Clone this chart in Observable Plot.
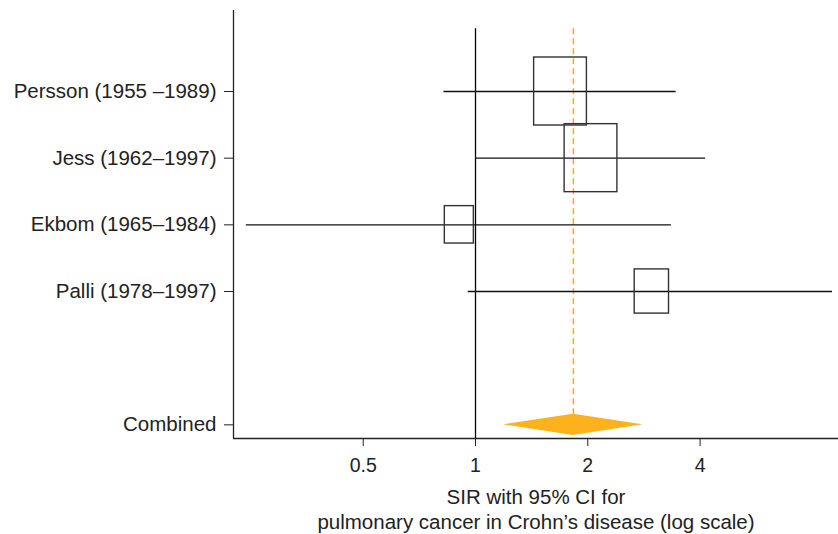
<!DOCTYPE html>
<html>
<head>
<meta charset="utf-8">
<script src="https://cdn.jsdelivr.net/npm/d3@7"></script>
<script src="https://cdn.jsdelivr.net/npm/@observablehq/plot@0.6"></script>
<style>
  html, body { margin: 0; padding: 0; background: #fff; }
  #chart { width: 838px; height: 534px; }
  svg { font-family: "Liberation Sans", Arial, Helvetica, sans-serif; }
</style>
</head>
<body>
<div id="chart"></div>
<script>
// ---- data ----
const studies = ["Persson (1955 \u20131989)", "Jess (1962\u20131997)", "Ekbom (1965\u20131984)", "Palli (1978\u20131997)"];
const sir     = [1.69, 2.04, 0.905, 2.97];
const ciLow   = [0.823, 1.00, 0.243, 0.956];
const ciHigh  = [3.45, 4.14, 3.35, 9.06];
const weight  = [1.0, 1.0, 0.55, 0.65];   // relative box size
const combinedLabel = "Combined";
const combinedSir = 1.83;
const combinedLow = 1.19;
const combinedHigh = 2.81;
const xTicks = [0.5, 1, 2, 4];
const xTitle = "SIR with 95% CI for\npulmonary cancer in Crohn\u2019s disease (log scale)";

// ---- layout ----
const rows = studies.map((s, i) => i + 1);
const combinedRow = 6;
const yDomain = [-0.215, 6.205];
const xDomain = [0.2245, 9.4];
const boxHalfH = 0.51;            // in row units
const boxHalfWLog2 = 0.235;       // in log2 units
const diamondHalfH = 0.16;
const lineTop = 0.06;

const studyData = studies.map((s, i) => ({
  name: s, row: rows[i], est: sir[i], lo: ciLow[i], hi: ciHigh[i],
  x1: sir[i] / Math.pow(2, boxHalfWLog2 * weight[i]),
  x2: sir[i] * Math.pow(2, boxHalfWLog2 * weight[i]),
  y1: rows[i] - boxHalfH * weight[i],
  y2: rows[i] + boxHalfH * weight[i]
}));

const diamond = [
  {x: combinedLow,  y1: combinedRow, y2: combinedRow},
  {x: combinedSir,  y1: combinedRow - diamondHalfH, y2: combinedRow + diamondHalfH},
  {x: combinedHigh, y1: combinedRow, y2: combinedRow}
];

const yTicks = [...rows, combinedRow];
const yLabels = [...studies, combinedLabel];

const ink = "#222";
const orange = "#FDB11A";

const chart = Plot.plot({
  width: 838,
  height: 534,
  marginLeft: 233,
  marginRight: 0,
  marginTop: 10,
  marginBottom: 96,
  style: {fontFamily: "'Liberation Sans', Arial, Helvetica, sans-serif", fontSize: "20px", color: ink, background: "#fff"},
  x: {type: "log", domain: xDomain, ticks: xTicks, tickFormat: d => String(d)},
  y: {domain: yDomain, reverse: true},
  marks: [
    // axis lines
    Plot.ruleX([xDomain[0]], {stroke: ink, strokeWidth: 1.3}),
    Plot.ruleY([yDomain[1]], {stroke: ink, strokeWidth: 1.3}),
    // reference line at 1
    Plot.ruleX([1], {y1: lineTop, y2: yDomain[1], stroke: "#000", strokeWidth: 1.3}),
    // combined estimate dashed line
    Plot.ruleX([combinedSir], {y1: lineTop, y2: combinedRow - diamondHalfH, stroke: "#FFAA00", strokeWidth: 1.5, strokeDasharray: "6,4"}),
    // CIs
    Plot.ruleY(studyData, {y: "row", x1: "lo", x2: "hi", stroke: "#111", strokeWidth: 1.3}),
    // boxes
    Plot.rect(studyData, {x1: "x1", x2: "x2", y1: "y1", y2: "y2", fill: "none", stroke: "#333", strokeWidth: 1.4}),
    // combined diamond
    Plot.areaY(diamond, {x: "x", y1: "y1", y2: "y2", fill: orange, stroke: "none", curve: "linear"}),
    // axes
    Plot.axisX({ticks: xTicks, tickFormat: d => String(d), tickSize: 8, tickPadding: 12, fontSize: 19.5, label: null, stroke: ink}),
    Plot.axisY({ticks: yTicks, tickFormat: d => yLabels[yTicks.indexOf(d)], tickSize: 9, tickPadding: 8, fontSize: 20.5, label: null}),
    // x title
    Plot.text([xTitle], {frameAnchor: "bottom", lineAnchor: "top", dy: 47, lineHeight: 1.25, fontSize: 20.5, fill: ink})
  ]
});
document.getElementById("chart").appendChild(chart);
</script>
</body>
</html>
